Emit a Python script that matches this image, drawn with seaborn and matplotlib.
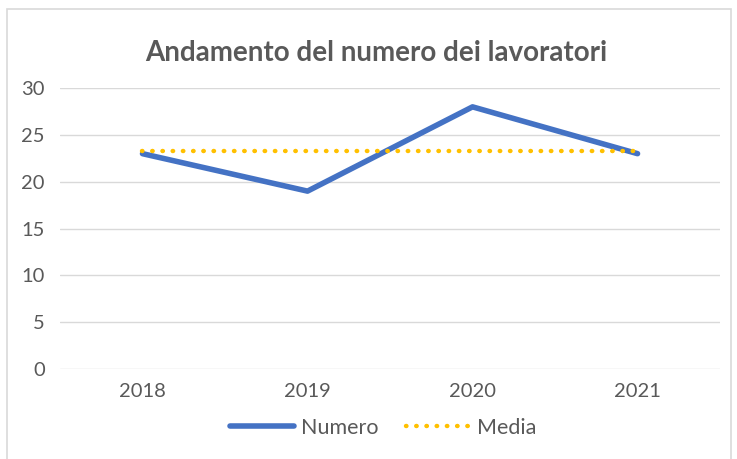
import matplotlib
matplotlib.use('Agg')
import matplotlib.pyplot as plt
import seaborn as sns
import pandas as pd
from matplotlib.patches import Rectangle

# dati
anni = ['2018', '2019', '2020', '2021']
numero = [23, 19, 28, 23]
media = [23.25, 23.25, 23.25, 23.25]

df = pd.DataFrame({'Anno': anni, 'Numero': numero, 'Media': media})

sns.set_theme(style='white')
plt.rcParams['font.family'] = ['Lato', 'DejaVu Sans']
grigio = '#595959'

fig = plt.figure(figsize=(7.37, 4.59), dpi=100)
ax = fig.add_axes([0.0814, 0.196, 0.8956, 0.612])

sns.lineplot(data=df, x='Anno', y='Numero', ax=ax, color='#4472C4', lw=4,
             solid_capstyle='round', label='Numero', sort=False)
sns.lineplot(data=df, x='Anno', y='Media', ax=ax, color='#FFC000', lw=3.2,
             linestyle=(0, (0.1, 2.2)), dash_capstyle='round', label='Media', sort=False)

ax.set_xlim(-0.5, 3.5)
ax.set_ylim(0, 30)
ax.set_yticks(range(0, 31, 5))
ax.yaxis.grid(True, color='#D9D9D9', lw=1)
ax.set_axisbelow(True)
for s in ax.spines.values():
    s.set_visible(False)
ax.set_xlabel('')
ax.set_ylabel('')
ax.tick_params(axis='both', colors=grigio, labelsize=14.5, length=0)
ax.tick_params(axis='y', pad=11)
ax.tick_params(axis='x', pad=10)

fig.text(0.51, 0.885, 'Andamento del numero dei lavoratori', ha='center', va='center',
         fontsize=20, fontweight='bold', color=grigio)

leg = ax.legend(loc='center', bbox_to_anchor=(0.52, 0.068), bbox_transform=fig.transFigure,
                ncol=2, frameon=False, fontsize=15.5, handlelength=3.0, columnspacing=1.3,
                handletextpad=0.3)
for t in leg.get_texts():
    t.set_color(grigio)

fig.patches.append(Rectangle((0.0095, -0.05), 0.983, 1.03, transform=fig.transFigure,
                             fill=False, edgecolor='#D9D9D9', lw=1.2))

fig.savefig('out.png', dpi=100)
